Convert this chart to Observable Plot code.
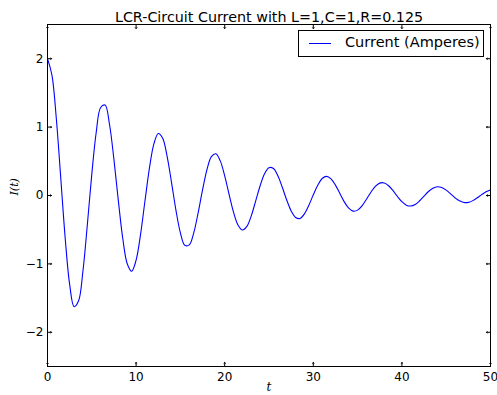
<!DOCTYPE html>
<html>
<head>
<meta charset="utf-8">
<script src="https://cdn.jsdelivr.net/npm/d3@7"></script>
<script src="https://cdn.jsdelivr.net/npm/@observablehq/plot@0.6"></script>
<style>
  html, body { margin: 0; padding: 0; background: #fff; }
  #wrap { position: relative; width: 497px; height: 395px; font-family: "DejaVu Sans", sans-serif; }
  #legend { position: absolute; left: 298px; top: 30px; width: 186px; height: 27px; border: 1px solid #000; background: #fff; box-sizing: border-box; }
  #legend .swatch { position: absolute; left: 10px; top: 12px; width: 22px; height: 0; border-top: 1px solid #0000ff; }
  #legend .lab { position: absolute; left: 46px; top: 3px; font-size: 14.5px; color: #000; white-space: nowrap; }
</style>
</head>
<body>
<div id="wrap"></div>
<script>
const titleText = "LCR-Circuit Current with L=1,C=1,R=0.125";
const seriesName = "Current (Amperes)";
const xLabel = "t";
const yLabel = "I(t)";
const xTicks = [0, 10, 20, 30, 40, 50];
const yTicks = [-2, -1, 0, 1, 2];

const tValues = [
  0, 0.5, 1, 1.5, 2, 2.5, 3, 3.5, 4, 4.5, 5, 5.5, 6, 6.5, 7, 7.5, 8, 8.5, 9, 9.5,
  10, 10.5, 11, 11.5, 12, 12.5, 13, 13.5, 14, 14.5, 15, 15.5, 16, 16.5, 17, 17.5, 18, 18.5, 19, 19.5,
  20, 20.5, 21, 21.5, 22, 22.5, 23, 23.5, 24, 24.5, 25, 25.5, 26, 26.5, 27, 27.5, 28, 28.5, 29, 29.5,
  30, 30.5, 31, 31.5, 32, 32.5, 33, 33.5, 34, 34.5, 35, 35.5, 36, 36.5, 37, 37.5, 38, 38.5, 39, 39.5,
  40, 40.5, 41, 41.5, 42, 42.5, 43, 43.5, 44, 44.5, 45, 45.5, 46, 46.5, 47, 47.5, 48, 48.5, 49, 49.5, 50
];
const currentValues = [
  2.000, 1.760, 1.118, 0.249, -0.628, -1.300, -1.625, -1.543, -1.103, -0.423,
  0.312, 0.925, 1.287, 1.322, 1.038, 0.524, -0.082, -0.632, -0.997, -1.107,
  -0.945, -0.571, -0.081, 0.397, 0.751, 0.907, 0.837, 0.573, 0.189, -0.217,
  -0.546, -0.727, -0.722, -0.549, -0.254, 0.082, 0.379, 0.568, 0.610, 0.506,
  0.287, 0.013, -0.247, -0.432, -0.505, -0.452, -0.297, -0.079, 0.143, 0.318,
  0.407, 0.394, 0.288, 0.120, -0.066, -0.225, -0.321, -0.336, -0.268, -0.142,
  0.010, 0.150, 0.248, 0.280, 0.243, 0.152, 0.029, -0.093, -0.185, -0.228,
  -0.214, -0.151, -0.055, 0.048, 0.132, 0.181, 0.184, 0.143, 0.070, -0.015,
  -0.091, -0.141, -0.154, -0.131, -0.077, -0.008, 0.058, 0.106, 0.127, 0.116,
  0.078, 0.024, -0.033, -0.078, -0.102, -0.101, -0.075, -0.034, 0.013, 0.054,
  0.080
];

const data = tValues.map((t, i) => ({t, current: currentValues[i]}));
const tickLen = 4;
const fmt = d3.format("d");

const chart = Plot.plot({
  width: 497,
  height: 395,
  marginLeft: 47,
  marginRight: 7,
  marginTop: 24,
  marginBottom: 29,
  style: {fontFamily: "DejaVu Sans, sans-serif", fontSize: "12px", color: "#000", background: "#fff"},
  x: {domain: [0, 50]},
  y: {domain: [-2.5, 2.5]},
  marks: [
    Plot.axisX(xTicks, {tickSize: 0, tickPadding: 6, label: null, fontSize: 12, tickFormat: fmt}),
    Plot.axisY(yTicks, {tickSize: 0, tickPadding: 4, label: null, fontSize: 12, tickFormat: fmt}),
    Plot.line(data, {x: "t", y: "current", curve: "catmull-rom", stroke: "#0000ff", strokeWidth: 1.1}),
    Plot.vector(xTicks, {x: d => d, frameAnchor: "bottom", rotate: 0, anchor: "start", length: tickLen, stroke: "#000", strokeWidth: 1}),
    Plot.vector(xTicks, {x: d => d, frameAnchor: "top", rotate: 180, anchor: "start", length: tickLen, stroke: "#000", strokeWidth: 1}),
    Plot.vector(yTicks, {y: d => d, frameAnchor: "left", rotate: 90, anchor: "start", length: tickLen, stroke: "#000", strokeWidth: 1}),
    Plot.vector(yTicks, {y: d => d, frameAnchor: "right", rotate: -90, anchor: "start", length: tickLen, stroke: "#000", strokeWidth: 1}),
    Plot.frame({stroke: "#000", strokeWidth: 1}),
    Plot.text([titleText], {frameAnchor: "top", dy: -13, fontSize: 14.3, fill: "#000"}),
    Plot.text([xLabel], {frameAnchor: "bottom", dy: 24, fontSize: 12, fontStyle: "italic", fontFamily: "DejaVu Serif", fill: "#000"}),
    Plot.text([yLabel], {frameAnchor: "left", dx: -33, rotate: -90, fontSize: 11, fontStyle: "italic", fontFamily: "DejaVu Serif", fill: "#000"})
  ]
});

const wrap = document.getElementById("wrap");
wrap.appendChild(chart);
const legend = document.createElement("div");
legend.id = "legend";
legend.innerHTML = `<span class="swatch"></span><span class="lab"></span>`;
legend.querySelector(".lab").textContent = seriesName;
wrap.appendChild(legend);
</script>
</body>
</html>
